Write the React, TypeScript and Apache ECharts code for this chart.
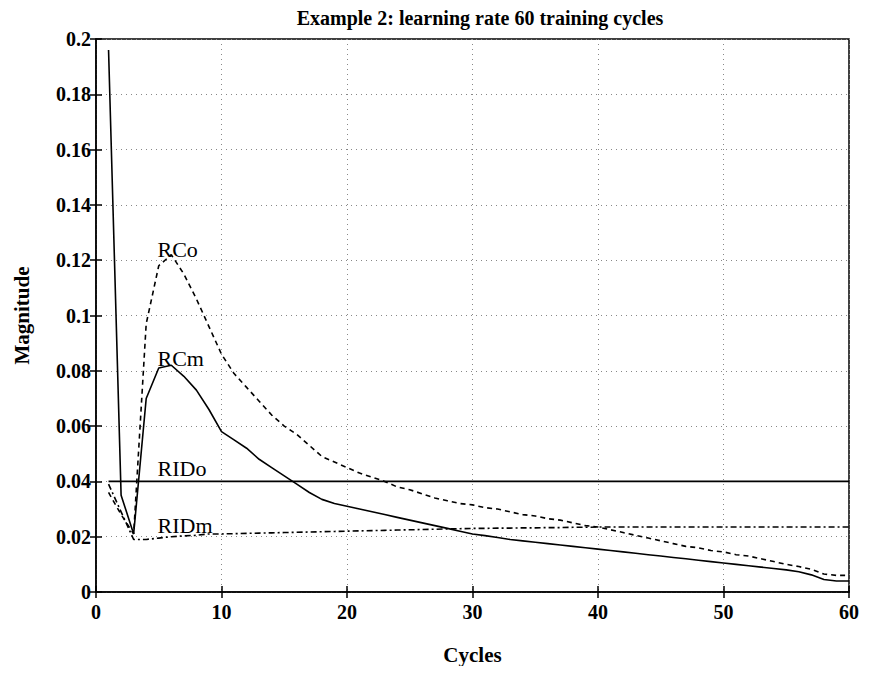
import React, { useEffect, useRef } from "react";
import * as echarts from "echarts";

const cycles: number[] = Array.from({ length: 60 }, (_, i) => i + 1);

const rcm: number[] = [
  0.196, 0.035, 0.021, 0.07, 0.081, 0.082, 0.078, 0.073, 0.066, 0.058,
  0.055, 0.052, 0.048, 0.045, 0.042, 0.039, 0.036, 0.0335, 0.032, 0.031,
  0.03, 0.029, 0.028, 0.027, 0.026, 0.025, 0.024, 0.023, 0.022, 0.021,
  0.0204, 0.0197, 0.019, 0.0185, 0.018, 0.0175, 0.017, 0.0165, 0.016, 0.0155,
  0.015, 0.0145, 0.014, 0.0135, 0.013, 0.0125, 0.012, 0.0115, 0.011, 0.0105,
  0.01, 0.0095, 0.009, 0.0085, 0.008, 0.0073, 0.0062, 0.0045, 0.004, 0.004,
];

const rco: number[] = [
  0.036, 0.028, 0.021, 0.097, 0.118, 0.122, 0.115, 0.106, 0.096, 0.086,
  0.079, 0.074, 0.069, 0.064, 0.06, 0.057, 0.053, 0.049, 0.047, 0.045,
  0.043, 0.0415, 0.04, 0.038, 0.037, 0.0355, 0.034, 0.033, 0.032, 0.0315,
  0.0305, 0.03, 0.029, 0.028, 0.0275, 0.0265, 0.026, 0.025, 0.024, 0.0235,
  0.0225, 0.0215, 0.0205, 0.0195, 0.0185, 0.0175, 0.0165, 0.016, 0.015, 0.0145,
  0.0135, 0.013, 0.012, 0.011, 0.01, 0.0092, 0.0082, 0.0065, 0.006, 0.006,
];

const rido: number[] = Array(60).fill(0.04);

const ridm: number[] = [
  0.039, 0.029, 0.019, 0.019, 0.0195, 0.02, 0.0203, 0.0205, 0.021, 0.021,
  0.0211, 0.0212, 0.0213, 0.0214, 0.0215, 0.0216, 0.0217, 0.0218, 0.0219, 0.022,
  0.0221, 0.0222, 0.0223, 0.0224, 0.0225, 0.0226, 0.0227, 0.0228, 0.0229, 0.023,
  0.023, 0.0231, 0.0231, 0.0232, 0.0232, 0.0233, 0.0233, 0.0234, 0.0234, 0.0235,
  0.0235, 0.0235, 0.0235, 0.0235, 0.0235, 0.0235, 0.0235, 0.0235, 0.0235, 0.0235,
  0.0235, 0.0235, 0.0235, 0.0235, 0.0235, 0.0235, 0.0235, 0.0235, 0.0235, 0.0235,
];

const labelNames: string[] = ["RCo", "RCm", "RIDo", "RIDm"];
const labelX: number[] = [4.9, 4.9, 4.9, 4.9];
const labelY: number[] = [0.124, 0.0843, 0.0445, 0.024];

const FONT = "'Liberation Serif', 'DejaVu Serif', serif";

export default function App() {
  const ref = useRef<HTMLDivElement>(null);
  useEffect(() => {
    if (!ref.current) return;
    const chart = echarts.init(ref.current, null, { renderer: "svg" });
    const pair = (arr: number[]) => cycles.map((c, i) => [c, arr[i]]);
    const black = "#000";
    const tickLabel = {
      color: black,
      fontFamily: FONT,
      fontWeight: "bold" as const,
      fontSize: 20,
    };
    chart.setOption({
      animation: false,
      backgroundColor: "#fff",
      title: {
        text: "Example 2: learning rate 60 training cycles",
        left: 472,
        textAlign: "center",
        top: 0,
        padding: 0,
        textStyle: {
          fontFamily: FONT,
          fontWeight: "bold",
          fontSize: 20,
          color: black,
        },
      },
      grid: {
        left: 88,
        right: 12,
        top: 31,
        bottom: 74,
        show: true,
        borderColor: black,
        borderWidth: 1.5,
        backgroundColor: "transparent",
        outerBoundsMode: "none",
        containLabel: false,
      },
      xAxis: [
        {
          type: "value",
          min: 0,
          max: 60,
          interval: 10,
          name: "Cycles",
          nameLocation: "middle",
          nameGap: 52,
          nameTextStyle: { ...tickLabel, fontSize: 21 },
          axisLine: { onZero: false, lineStyle: { color: black, width: 1.5 } },
          axisTick: { inside: true, length: 6, lineStyle: { color: black, width: 1.5 } },
          axisLabel: { ...tickLabel, margin: 10 },
          splitLine: {
            show: true,
            lineStyle: { color: "#888", type: [1, 4], width: 1 },
          },
        },
        {
          type: "value",
          position: "top",
          min: 0,
          max: 60,
          interval: 10,
          axisLine: { show: false },
          axisTick: { inside: true, length: 6, lineStyle: { color: black, width: 1.5 } },
          axisLabel: { show: false },
          splitLine: { show: false },
        },
      ],
      yAxis: [
        {
          type: "value",
          min: 0,
          max: 0.2,
          interval: 0.02,
          name: "Magnitude",
          nameLocation: "middle",
          nameGap: 64,
          nameTextStyle: { ...tickLabel, fontSize: 21 },
          axisLine: { onZero: false, lineStyle: { color: black, width: 1.5 } },
          axisTick: { inside: true, length: 6, lineStyle: { color: black, width: 1.5 } },
          axisLabel: {
            ...tickLabel,
            margin: 5,
            formatter: (v: number) => String(Number(v.toFixed(2))),
          },
          splitLine: {
            show: true,
            lineStyle: { color: "#888", type: [1, 4], width: 1 },
          },
        },
        {
          type: "value",
          position: "right",
          min: 0,
          max: 0.2,
          interval: 0.02,
          axisLine: { show: false },
          axisTick: { inside: true, length: 6, lineStyle: { color: black, width: 1.5 } },
          axisLabel: { show: false },
          splitLine: { show: false },
        },
      ],
      series: [
        {
          name: "RCm",
          type: "line",
          data: pair(rcm),
          showSymbol: false,
          lineStyle: { color: black, width: 1.6, type: "solid" },
        },
        {
          name: "RCo",
          type: "line",
          data: pair(rco),
          showSymbol: false,
          lineStyle: { color: black, width: 1.6, type: [5, 4] },
        },
        {
          name: "RIDo",
          type: "line",
          data: pair(rido),
          showSymbol: false,
          lineStyle: { color: black, width: 1.6, type: "solid" },
        },
        {
          name: "RIDm",
          type: "line",
          data: pair(ridm),
          showSymbol: false,
          lineStyle: { color: black, width: 1.6, type: [6, 3, 2, 3] },
        },
        {
          name: "labels",
          type: "scatter",
          symbolSize: 0,
          data: labelNames.map((n, i) => ({ name: n, value: [labelX[i], labelY[i]] })),
          label: {
            show: true,
            position: "right",
            distance: 0,
            formatter: (p: any) => p.name,
            fontFamily: FONT,
            fontSize: 22,
            color: black,
            opacity: 1,
          },
          itemStyle: { opacity: 1 },
          silent: true,
          z: 10,
        },
      ],
    });
    return () => chart.dispose();
  }, []);
  return <div ref={ref} style={{ width: 853, height: 658 }} />;
}
